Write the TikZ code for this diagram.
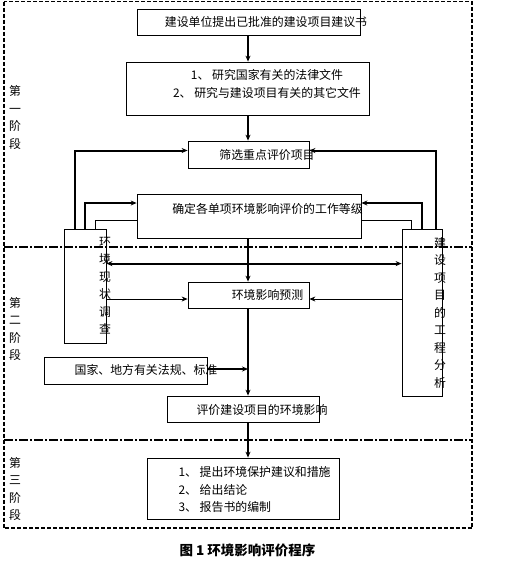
\documentclass[tikz,border=0pt]{standalone}
\usepackage{fontspec}
\setmainfont{Noto Sans CJK SC}
\usetikzlibrary{arrows.meta}

\begin{document}
\begin{tikzpicture}[x=1pt,y=-1pt,font=\fontsize{11.9}{17.5}\selectfont,
    >={Stealth[length=6pt,width=5pt]},
    box/.style={draw,line width=0.8pt,inner sep=0pt},
    thickline/.style={line width=2pt},
    thinline/.style={line width=0.8pt}]
    \useasboundingbox (0,0) rectangle (512,563);
    \coordinate (axis) at (248,0);

    % stage frame
    \draw[line width=1.5pt,dash pattern=on 4pt off 2pt] (4,1.5) rectangle (472,528);
    \draw[line width=1.5pt,dash pattern=on 9pt off 2pt on 2pt off 2pt] (4,247) -- (472,247);
    \draw[line width=1.5pt,dash pattern=on 9pt off 2pt on 2pt off 2pt] (4,440) -- (472,440);
    \node[align=center] (stageA) at (15,117.5) {第\\一\\阶\\段};
    \node[align=center] (stageB) at (15,329) {第\\二\\阶\\段};
    \node[align=center] (stageC) at (15,489) {第\\三\\阶\\段};

    % boxes
    \node[box,minimum width=223pt,minimum height=26pt] (propose) at (248.5,22) {};
    \node (proposetxt) at (266,22) {建设单位提出已批准的建设项目建议书};
    \node[box,minimum width=243pt,minimum height=53pt] (study) at (247.5,88.5) {};
    \node[align=center] (studytxt) at (267,84)
        {1、 研究国家有关的法律文件\\2、 研究与建设项目有关的其它文件};
    \node[box,minimum width=121pt,minimum height=27pt] (screen) at (248.5,154.5) {};
    \node (screentxt) at (267,155) {筛选重点评价项目};
    \node[box,minimum width=224pt,minimum height=44pt] (grade) at (249,216) {};
    \node (gradetxt) at (267.5,209) {确定各单项环境影响评价的工作等级};
    \node[box,minimum width=42pt,minimum height=114pt] (survey) at (85,286) {};
    \node[align=center] (surveytxt) at (105,285.5) {环\\境\\现\\状\\调\\查};
    \node[box,minimum width=40pt,minimum height=167pt] (analysis) at (422,312.5) {};
    \node[align=center] (analysistxt) at (440,312.5) {建\\设\\项\\目\\的\\工\\程\\分\\析};
    \node[box,minimum width=121pt,minimum height=26pt] (predict) at (248.5,295) {};
    \node (predicttxt) at (267.5,295) {环境影响预测};
    \node[box,minimum width=163pt,minimum height=27pt] (norms) at (125.5,370.5) {};
    \node (normstxt) at (146,370) {国家、地方有关法规、标准};
    \node[box,minimum width=152pt,minimum height=26pt] (evaluate) at (243,409) {};
    \node (evaluatetxt) at (262,410) {评价建设项目的环境影响};
    \node[box,minimum width=192pt,minimum height=61pt] (conclude) at (243,488.5) {};
    \node[align=left,anchor=west] (concludetxt) at (175,489.5)
        {1、 提出环境保护建议和措施\\2、 给出结论\\3、 报告书的编制};

    % connectors
    \draw[thickline,->] (axis |- propose.south) -- (axis |- study.north);
    \draw[thickline,->] (axis |- study.south) -- (axis |- screen.north);
    \draw[thickline,->] ([xshift=11pt]survey.north west) |- ([yshift=4pt]screen.west);
    \draw[thickline,->] ([xshift=-6pt]analysis.north east) |- ([yshift=4pt]screen.east);
    \draw[thickline,->] (survey.north) |- ([yshift=13pt]grade.west);
    \draw[thickline,->] (analysis.north) |- ([yshift=13pt]grade.east);
    \draw[thinline] ([xshift=32pt]survey.north west) |- ([yshift=-4pt]grade.west);
    \draw[thinline] ([xshift=10pt]analysis.north west) |- ([yshift=-4pt]grade.east);
    \draw[thickline,->] (axis |- grade.south) -- (axis |- predict.north);
    \draw[thickline,<->] ([yshift=-35pt]survey.north east) -- ([yshift=-35pt]analysis.north west);
    \draw[thinline,->] ([yshift=-13pt]survey.east) -- ([yshift=-13pt]survey.east -| predict.west);
    \draw[thinline,->] ([yshift=13.5pt]analysis.west) -- ([yshift=13.5pt]analysis.west -| predict.east);
    \draw[thickline,->] (axis |- predict.south) -- (axis |- evaluate.north);
    \draw[thickline,->] ([yshift=1.5pt]norms.east) -- ([yshift=1.5pt]norms.east -| axis);
    \draw[thickline,->] (axis |- evaluate.south) -- (axis |- conclude.north);

    \node[font=\fontsize{13.5}{16}\selectfont\bfseries] (caption) at (247.5,550)
        {图 1 环境影响评价程序};
\end{tikzpicture}
\end{document}
